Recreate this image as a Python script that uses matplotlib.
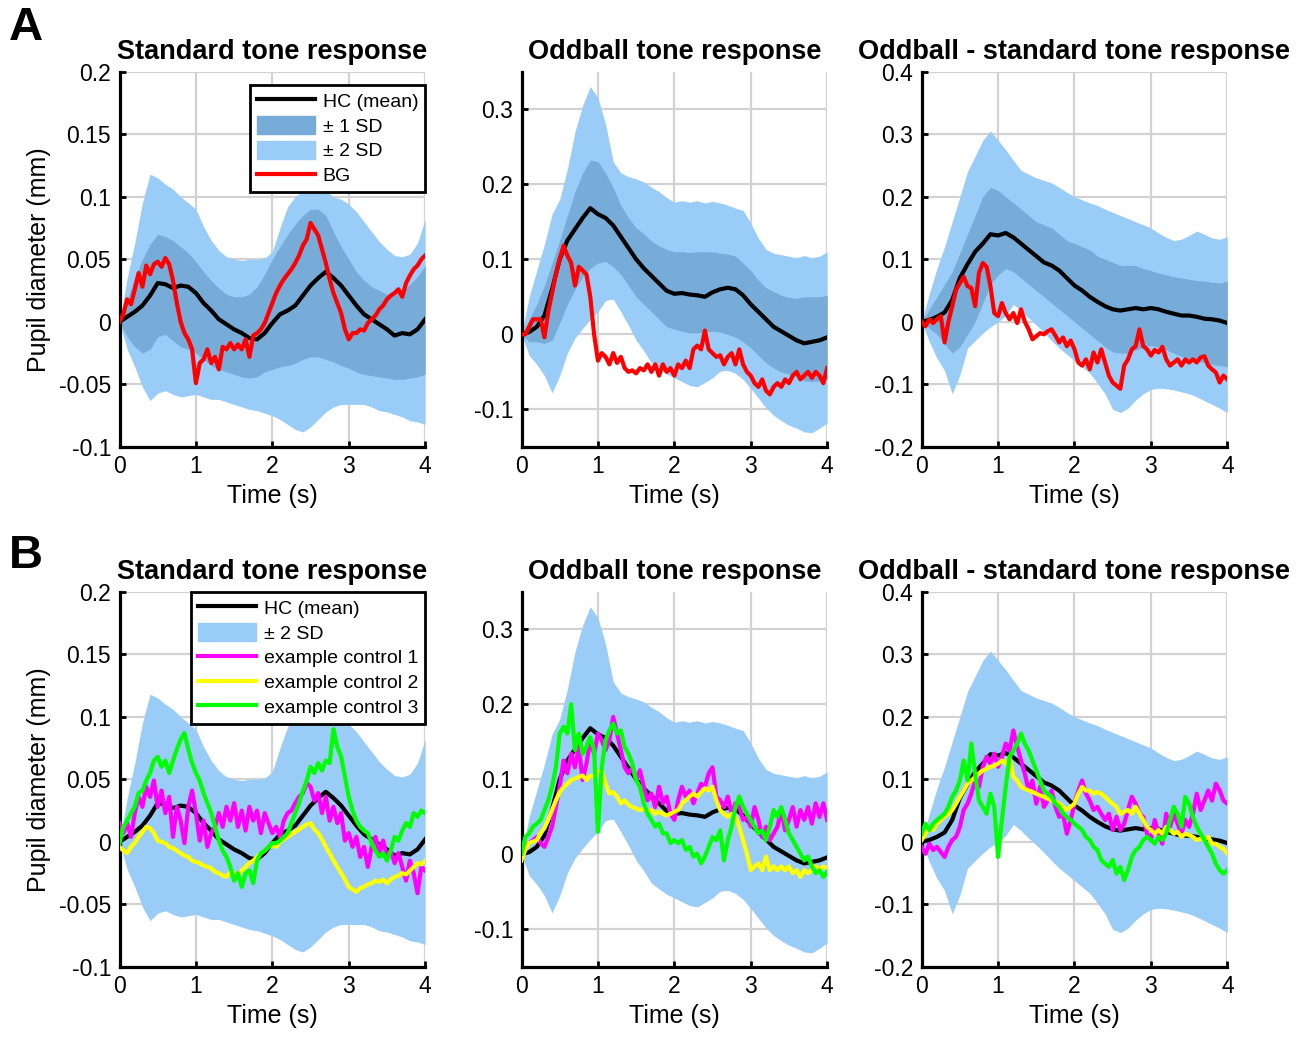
import numpy as np
import matplotlib
matplotlib.use('Agg')
import matplotlib.pyplot as plt
from matplotlib.lines import Line2D
from matplotlib.patches import Patch

plt.rcParams['font.family'] = ['Liberation Sans', 'DejaVu Sans']

# time axes (s): means / SD bands every 0.1 s, single traces every 0.05 s
t41 = np.linspace(0, 4, 41)
t81 = np.linspace(0, 4, 81)

# ---------------- standard tone ----------------
std_mean = [0.000, 0.004, 0.008, 0.013, 0.021, 0.031, 0.030, 0.027, 0.029, 0.028,
            0.023, 0.015, 0.009, 0.002, -0.002, -0.006, -0.009, -0.013, -0.014, -0.009,
            -0.001, 0.006, 0.009, 0.013, 0.021, 0.029, 0.035, 0.040, 0.035, 0.029,
            0.021, 0.013, 0.006, 0.002, -0.002, -0.006, -0.011, -0.009, -0.010, -0.006,
            0.002]
std_hi2 = [0.000, 0.035, 0.063, 0.095, 0.118, 0.115, 0.110, 0.106, 0.100, 0.095,
           0.090, 0.076, 0.065, 0.057, 0.052, 0.050, 0.049, 0.050, 0.050, 0.051,
           0.056, 0.075, 0.092, 0.100, 0.105, 0.110, 0.110, 0.105, 0.100, 0.098,
           0.094, 0.088, 0.080, 0.072, 0.064, 0.058, 0.053, 0.052, 0.054, 0.063,
           0.082]
std_lo2 = [0.000, -0.022, -0.036, -0.052, -0.063, -0.057, -0.055, -0.058, -0.060, -0.059,
           -0.058, -0.060, -0.062, -0.062, -0.064, -0.066, -0.068, -0.070, -0.071, -0.073,
           -0.075, -0.078, -0.082, -0.086, -0.088, -0.084, -0.078, -0.072, -0.068, -0.066,
           -0.066, -0.066, -0.066, -0.068, -0.071, -0.072, -0.074, -0.076, -0.079, -0.080,
           -0.082]
std_hi1 = [0.000, 0.018, 0.035, 0.050, 0.062, 0.070, 0.068, 0.065, 0.060, 0.055,
           0.048, 0.040, 0.033, 0.027, 0.022, 0.020, 0.020, 0.022, 0.028, 0.038,
           0.050, 0.060, 0.070, 0.078, 0.085, 0.090, 0.090, 0.085, 0.072, 0.060,
           0.050, 0.040, 0.033, 0.028, 0.025, 0.022, 0.022, 0.025, 0.030, 0.036,
           0.045]
std_lo1 = [0.000, -0.012, -0.020, -0.025, -0.022, -0.012, -0.010, -0.015, -0.020, -0.022,
           -0.025, -0.030, -0.035, -0.038, -0.040, -0.042, -0.044, -0.045, -0.044, -0.040,
           -0.038, -0.036, -0.035, -0.033, -0.030, -0.028, -0.028, -0.030, -0.032, -0.035,
           -0.037, -0.040, -0.042, -0.043, -0.044, -0.045, -0.046, -0.046, -0.045, -0.044,
           -0.042]
std_bg = [0.000, 0.006, 0.018, 0.014, 0.026, 0.039, 0.028, 0.045, 0.038, 0.046,
          0.048, 0.044, 0.051, 0.046, 0.033, 0.015, 0.000, -0.009, -0.014, -0.022,
          -0.049, -0.033, -0.030, -0.022, -0.033, -0.028, -0.038, -0.020, -0.022, -0.017,
          -0.022, -0.018, -0.022, -0.014, -0.028, -0.011, -0.009, -0.006, -0.001, 0.007,
          0.015, 0.023, 0.029, 0.034, 0.038, 0.042, 0.047, 0.053, 0.061, 0.066,
          0.079, 0.074, 0.069, 0.058, 0.047, 0.034, 0.023, 0.015, 0.007, -0.006,
          -0.014, -0.009, -0.009, -0.006, -0.007, -0.001, 0.002, 0.005, 0.010, 0.013,
          0.018, 0.021, 0.023, 0.026, 0.020, 0.031, 0.037, 0.042, 0.045, 0.050,
          0.053]
std_c1 = [0.015, 0.007, 0.015, 0.004, 0.023, 0.036, 0.028, 0.044, 0.036, 0.049,
          0.028, 0.041, 0.023, 0.036, 0.004, 0.028, 0.017, -0.001, 0.028, 0.041,
          0.023, 0.001, 0.017, -0.004, 0.007, 0.012, 0.023, 0.012, 0.028, 0.017,
          0.031, 0.012, 0.025, 0.009, 0.028, 0.017, 0.025, 0.007, 0.023, 0.015,
          0.007, 0.012, 0.004, 0.017, 0.023, 0.025, 0.031, 0.036, 0.039, 0.047,
          0.044, 0.033, 0.039, 0.023, 0.036, 0.017, 0.028, 0.015, 0.023, 0.001,
          0.007, -0.004, 0.004, -0.012, -0.004, -0.020, -0.004, 0.004, -0.009, 0.001,
          -0.012, -0.007, -0.017, -0.009, -0.020, -0.031, -0.015, -0.025, -0.041, -0.020,
          -0.023]
std_c2 = [-0.004, -0.007, -0.009, -0.004, -0.001, 0.004, 0.008, 0.012, 0.011, 0.007,
          0.001, 0.000, -0.001, -0.004, -0.005, -0.007, -0.009, -0.011, -0.012, -0.015,
          -0.016, -0.017, -0.019, -0.020, -0.021, -0.024, -0.025, -0.027, -0.028, -0.024,
          -0.025, -0.027, -0.023, -0.020, -0.017, -0.015, -0.012, -0.009, -0.007, -0.004,
          -0.003, -0.004, 0.000, 0.002, 0.004, 0.006, 0.008, 0.010, 0.012, 0.014,
          0.015, 0.010, 0.007, 0.002, -0.004, -0.009, -0.015, -0.020, -0.025, -0.030,
          -0.036, -0.038, -0.040, -0.037, -0.036, -0.034, -0.033, -0.031, -0.032, -0.030,
          -0.033, -0.030, -0.028, -0.027, -0.025, -0.026, -0.023, -0.020, -0.017, -0.018,
          -0.015]
std_c3 = [-0.001, 0.012, 0.017, 0.023, 0.028, 0.039, 0.041, 0.049, 0.055, 0.065,
          0.068, 0.060, 0.065, 0.055, 0.065, 0.074, 0.082, 0.087, 0.074, 0.063,
          0.055, 0.049, 0.039, 0.031, 0.023, 0.012, 0.001, -0.007, -0.012, -0.020,
          -0.031, -0.025, -0.036, -0.025, -0.023, -0.033, -0.015, -0.009, -0.007, -0.004,
          -0.001, -0.001, 0.001, 0.004, 0.007, 0.015, 0.023, 0.031, 0.041, 0.049,
          0.060, 0.055, 0.063, 0.057, 0.065, 0.063, 0.090, 0.076, 0.068, 0.052,
          0.036, 0.025, 0.017, 0.012, 0.009, 0.007, -0.001, -0.007, -0.012, -0.009,
          -0.015, -0.007, 0.004, 0.001, 0.009, 0.015, 0.012, 0.023, 0.020, 0.025,
          0.023]

# ---------------- oddball tone ----------------
odd_mean = [0.000, 0.003, 0.010, 0.025, 0.060, 0.100, 0.125, 0.140, 0.155, 0.168,
            0.160, 0.155, 0.145, 0.130, 0.115, 0.100, 0.088, 0.078, 0.068, 0.058,
            0.054, 0.055, 0.053, 0.052, 0.050, 0.056, 0.060, 0.062, 0.060, 0.052,
            0.040, 0.030, 0.020, 0.010, 0.004, -0.002, -0.008, -0.012, -0.010, -0.008,
            -0.004]
odd_hi2 = [0.000, 0.050, 0.085, 0.120, 0.160, 0.180, 0.220, 0.270, 0.305, 0.330,
           0.315, 0.280, 0.230, 0.215, 0.210, 0.207, 0.203, 0.196, 0.190, 0.182,
           0.176, 0.178, 0.176, 0.178, 0.175, 0.177, 0.175, 0.172, 0.168, 0.165,
           0.148, 0.128, 0.113, 0.108, 0.106, 0.104, 0.102, 0.105, 0.102, 0.104,
           0.110]
odd_lo2 = [0.000, -0.028, -0.040, -0.055, -0.078, -0.055, -0.025, -0.005, 0.008, 0.020,
           0.030, 0.045, 0.047, 0.030, 0.012, -0.008, -0.022, -0.038, -0.046, -0.053,
           -0.058, -0.063, -0.068, -0.070, -0.064, -0.058, -0.049, -0.048, -0.052, -0.060,
           -0.072, -0.085, -0.098, -0.108, -0.115, -0.121, -0.125, -0.130, -0.131, -0.125,
           -0.118]
odd_hi1 = [0.000, 0.020, 0.040, 0.065, 0.095, 0.125, 0.158, 0.190, 0.215, 0.232,
           0.230, 0.215, 0.195, 0.172, 0.155, 0.142, 0.134, 0.124, 0.118, 0.113,
           0.110, 0.110, 0.109, 0.110, 0.110, 0.110, 0.108, 0.107, 0.104, 0.095,
           0.085, 0.072, 0.062, 0.057, 0.052, 0.049, 0.048, 0.050, 0.050, 0.050,
           0.052]
odd_lo1 = [0.000, -0.010, -0.010, -0.012, -0.008, 0.015, 0.040, 0.060, 0.077, 0.088,
           0.095, 0.097, 0.090, 0.080, 0.065, 0.050, 0.040, 0.030, 0.020, 0.010,
           0.007, 0.004, 0.002, 0.002, 0.003, 0.004, 0.003, 0.000, -0.004, -0.010,
           -0.018, -0.028, -0.038, -0.045, -0.050, -0.053, -0.056, -0.062, -0.063, -0.062,
           -0.060]
odd_bg = [0.000, 0.000, 0.010, 0.020, 0.020, 0.020, -0.004, 0.030, 0.055, 0.080,
          0.100, 0.118, 0.105, 0.095, 0.065, 0.090, 0.085, 0.080, 0.050, 0.000,
          -0.035, -0.025, -0.030, -0.040, -0.025, -0.038, -0.030, -0.045, -0.050, -0.048,
          -0.052, -0.045, -0.048, -0.040, -0.050, -0.040, -0.055, -0.040, -0.050, -0.045,
          -0.055, -0.040, -0.045, -0.035, -0.045, -0.020, -0.015, -0.020, 0.005, -0.020,
          -0.025, -0.030, -0.028, -0.040, -0.030, -0.025, -0.040, -0.020, -0.040, -0.050,
          -0.055, -0.065, -0.070, -0.060, -0.075, -0.080, -0.070, -0.065, -0.070, -0.060,
          -0.065, -0.055, -0.050, -0.060, -0.055, -0.050, -0.058, -0.050, -0.055, -0.065,
          -0.045]
odd_c1 = [0.000, 0.010, 0.015, 0.019, 0.023, 0.015, 0.010, 0.023, 0.037, 0.063,
          0.090, 0.125, 0.108, 0.134, 0.116, 0.143, 0.099, 0.121, 0.152, 0.134,
          0.161, 0.152, 0.139, 0.152, 0.183, 0.161, 0.139, 0.116, 0.108, 0.116,
          0.099, 0.112, 0.090, 0.072, 0.081, 0.063, 0.090, 0.068, 0.077, 0.054,
          0.046, 0.072, 0.090, 0.077, 0.085, 0.068, 0.081, 0.094, 0.090, 0.108,
          0.116, 0.077, 0.072, 0.063, 0.077, 0.054, 0.068, 0.063, 0.046, 0.050,
          0.037, 0.063, 0.046, 0.023, 0.037, 0.019, 0.028, 0.037, 0.059, 0.032,
          0.046, 0.063, 0.037, 0.059, 0.046, 0.063, 0.041, 0.068, 0.050, 0.068,
          0.046]
odd_c2 = [-0.008, 0.006, 0.015, 0.017, 0.019, 0.028, 0.035, 0.046, 0.059, 0.072,
          0.083, 0.090, 0.094, 0.099, 0.101, 0.103, 0.105, 0.099, 0.105, 0.103,
          0.110, 0.112, 0.094, 0.081, 0.083, 0.077, 0.068, 0.072, 0.066, 0.063,
          0.061, 0.059, 0.061, 0.057, 0.059, 0.054, 0.057, 0.054, 0.052, 0.054,
          0.057, 0.059, 0.068, 0.072, 0.077, 0.081, 0.077, 0.083, 0.088, 0.085,
          0.090, 0.072, 0.059, 0.054, 0.050, 0.054, 0.050, 0.037, 0.019, 0.001,
          -0.021, -0.016, -0.012, -0.021, -0.003, -0.021, -0.016, -0.021, -0.016, -0.021,
          -0.016, -0.025, -0.021, -0.030, -0.021, -0.025, -0.021, -0.016, -0.021, -0.016,
          -0.019]
odd_c3 = [0.001, 0.023, 0.028, 0.037, 0.041, 0.046, 0.059, 0.072, 0.090, 0.116,
          0.161, 0.170, 0.161, 0.200, 0.139, 0.161, 0.134, 0.143, 0.156, 0.139,
          0.030, 0.116, 0.152, 0.165, 0.174, 0.161, 0.165, 0.143, 0.134, 0.121,
          0.099, 0.090, 0.068, 0.054, 0.046, 0.037, 0.041, 0.028, 0.028, 0.015,
          0.019, 0.015, 0.019, 0.006, 0.010, -0.003, 0.001, -0.012, -0.003, 0.010,
          0.023, 0.019, 0.032, -0.008, 0.019, 0.037, 0.063, 0.077, 0.063, 0.054,
          0.046, 0.037, 0.028, 0.032, 0.019, 0.037, 0.059, 0.050, 0.063, 0.046,
          0.028, 0.019, 0.010, 0.001, -0.008, -0.003, -0.016, -0.025, -0.021, -0.030,
          -0.023]

# ---------------- oddball - standard ----------------
dif_mean = [0.000, 0.003, 0.008, 0.015, 0.035, 0.070, 0.092, 0.112, 0.125, 0.140,
            0.138, 0.142, 0.135, 0.125, 0.115, 0.105, 0.095, 0.090, 0.082, 0.070,
            0.058, 0.050, 0.040, 0.032, 0.025, 0.020, 0.018, 0.020, 0.022, 0.020,
            0.022, 0.020, 0.016, 0.013, 0.010, 0.010, 0.008, 0.005, 0.004, 0.002,
            -0.002]
dif_hi2 = [0.000, 0.045, 0.085, 0.120, 0.160, 0.200, 0.240, 0.265, 0.290, 0.305,
           0.290, 0.275, 0.258, 0.242, 0.236, 0.230, 0.226, 0.222, 0.215, 0.207,
           0.200, 0.195, 0.190, 0.186, 0.180, 0.175, 0.170, 0.165, 0.160, 0.155,
           0.150, 0.142, 0.135, 0.130, 0.132, 0.138, 0.145, 0.140, 0.134, 0.132,
           0.136]
dif_lo2 = [0.000, -0.032, -0.058, -0.078, -0.115, -0.085, -0.042, -0.030, -0.018, -0.008,
           0.000, 0.010, 0.028, 0.018, 0.006, -0.005, -0.017, -0.030, -0.042, -0.052,
           -0.062, -0.072, -0.082, -0.098, -0.115, -0.140, -0.145, -0.138, -0.125, -0.115,
           -0.108, -0.106, -0.107, -0.109, -0.112, -0.115, -0.120, -0.126, -0.132, -0.138,
           -0.145]
dif_hi1 = [0.000, 0.020, 0.040, 0.060, 0.080, 0.110, 0.140, 0.170, 0.200, 0.215,
           0.210, 0.200, 0.190, 0.180, 0.170, 0.160, 0.155, 0.150, 0.140, 0.130,
           0.125, 0.120, 0.115, 0.105, 0.100, 0.095, 0.090, 0.090, 0.090, 0.085,
           0.082, 0.078, 0.075, 0.072, 0.070, 0.068, 0.066, 0.065, 0.063, 0.062,
           0.065]
dif_lo1 = [0.000, -0.010, -0.020, -0.035, -0.050, -0.040, -0.020, 0.000, 0.030, 0.060,
           0.075, 0.085, 0.080, 0.070, 0.060, 0.050, 0.040, 0.030, 0.020, 0.010,
           0.000, -0.010, -0.020, -0.030, -0.040, -0.048, -0.050, -0.050, -0.045, -0.040,
           -0.038, -0.040, -0.045, -0.050, -0.055, -0.060, -0.063, -0.065, -0.068, -0.070,
           -0.072]
dif_bg = [0.000, -0.007, 0.004, -0.002, 0.004, 0.009, -0.033, 0.000, 0.025, 0.051,
          0.062, 0.072, 0.057, 0.054, 0.025, 0.078, 0.094, 0.088, 0.057, 0.014,
          0.009, 0.030, 0.014, 0.004, 0.014, -0.002, 0.020, 0.000, -0.012, -0.028,
          -0.023, -0.018, -0.020, -0.015, -0.012, -0.022, -0.033, -0.025, -0.039, -0.030,
          -0.044, -0.065, -0.070, -0.060, -0.076, -0.049, -0.065, -0.044, -0.065, -0.086,
          -0.097, -0.102, -0.107, -0.070, -0.060, -0.044, -0.039, -0.012, -0.039, -0.044,
          -0.054, -0.045, -0.049, -0.040, -0.060, -0.070, -0.065, -0.060, -0.070, -0.060,
          -0.065, -0.060, -0.065, -0.057, -0.055, -0.070, -0.076, -0.081, -0.097, -0.086,
          -0.092]
dif_c1 = [-0.008, -0.019, -0.003, -0.013, -0.008, -0.016, -0.024, -0.008, 0.003, 0.008,
          0.024, 0.051, 0.061, 0.077, 0.098, 0.088, 0.120, 0.136, 0.125, 0.141,
          0.120, 0.136, 0.157, 0.146, 0.178, 0.152, 0.130, 0.109, 0.082, 0.098,
          0.061, 0.088, 0.056, 0.066, 0.082, 0.056, 0.040, 0.045, 0.013, 0.035,
          0.061, 0.082, 0.098, 0.077, 0.066, 0.051, 0.056, 0.045, 0.035, 0.045,
          0.019, 0.040, 0.019, 0.029, 0.051, 0.072, 0.061, 0.045, 0.040, 0.013,
          0.003, 0.035, 0.013, -0.003, 0.045, 0.024, 0.045, 0.029, 0.013, 0.035,
          0.024, 0.045, 0.077, 0.051, 0.066, 0.082, 0.066, 0.093, 0.082, 0.066,
          0.061]
dif_c2 = [0.003, 0.013, 0.024, 0.019, 0.029, 0.035, 0.040, 0.045, 0.051, 0.061,
          0.072, 0.082, 0.093, 0.098, 0.104, 0.109, 0.114, 0.117, 0.120, 0.122,
          0.125, 0.130, 0.125, 0.136, 0.104, 0.098, 0.088, 0.085, 0.082, 0.080,
          0.077, 0.074, 0.072, 0.069, 0.066, 0.064, 0.061, 0.056, 0.051, 0.056,
          0.061, 0.077, 0.088, 0.082, 0.082, 0.077, 0.080, 0.077, 0.072, 0.066,
          0.061, 0.056, 0.045, 0.048, 0.051, 0.045, 0.056, 0.045, 0.035, 0.024,
          0.019, 0.013, 0.019, 0.013, 0.024, 0.019, 0.013, 0.016, 0.008, 0.013,
          0.011, 0.008, 0.003, 0.005, 0.003, 0.008, -0.003, -0.003, -0.008, -0.011,
          -0.019]
dif_c3 = [0.013, 0.029, 0.019, 0.029, 0.035, 0.040, 0.045, 0.056, 0.072, 0.082,
          0.098, 0.130, 0.098, 0.157, 0.109, 0.066, 0.056, 0.045, 0.077, 0.056,
          -0.024, 0.035, 0.088, 0.136, 0.146, 0.157, 0.173, 0.157, 0.146, 0.130,
          0.114, 0.098, 0.082, 0.077, 0.072, 0.061, 0.056, 0.045, 0.040, 0.035,
          0.029, 0.024, 0.019, 0.008, 0.003, -0.008, -0.013, -0.029, -0.035, -0.040,
          -0.029, -0.051, -0.040, -0.061, -0.045, -0.024, -0.013, -0.008, 0.003, 0.008,
          0.003, -0.003, 0.008, 0.003, 0.013, 0.035, 0.056, 0.045, 0.024, 0.072,
          0.061, 0.040, 0.024, 0.013, 0.003, -0.008, -0.019, -0.035, -0.045, -0.051,
          -0.045]

titles = ['Standard tone response', 'Oddball tone response', 'Oddball - standard tone response']
ylims = [(-0.1, 0.2), (-0.15, 0.35), (-0.2, 0.4)]
yticks = [[-0.1, -0.05, 0, 0.05, 0.1, 0.15, 0.2],
          [-0.1, 0, 0.1, 0.2, 0.3],
          [-0.2, -0.1, 0, 0.1, 0.2, 0.3, 0.4]]

LIGHT = '#99CCF7'
DARK = '#77ABD8'
MAG, YEL, GRN = '#FF00FF', '#FFFF00', '#00FF00'
LW = 3.0

conds = [
    (std_mean, std_hi1, std_lo1, std_hi2, std_lo2, std_bg, [std_c1, std_c2, std_c3]),
    (odd_mean, odd_hi1, odd_lo1, odd_hi2, odd_lo2, odd_bg, [odd_c1, odd_c2, odd_c3]),
    (dif_mean, dif_hi1, dif_lo1, dif_hi2, dif_lo2, dif_bg, [dif_c1, dif_c2, dif_c3]),
]

fig = plt.figure(figsize=(13.09, 10.37), dpi=100)
lefts = [0.0913, 0.3984, 0.7041]
bottoms = [0.5690, 0.0675]
W, H = 0.2335, 0.3620


def style_axes(ax, i):
    ax.set_xlim(0, 4)
    ax.set_ylim(*ylims[i])
    ax.set_xticks([0, 1, 2, 3, 4])
    ax.set_xticklabels(['0', '1', '2', '3', '4'])
    ax.set_yticks(yticks[i])
    ax.set_yticklabels([f'{v:g}' for v in yticks[i]])
    ax.set_axisbelow(True)
    ax.grid(True, color='#d2d2d2', lw=1.6)
    for s in ['top', 'right']:
        ax.spines[s].set_visible(False)
    for s in ['left', 'bottom']:
        ax.spines[s].set_linewidth(2.3)
    ax.tick_params(direction='in', length=4, width=2.0, labelsize=16.5, pad=6)
    ax.set_title(titles[i], fontsize=19.5, fontweight='bold', pad=9)
    ax.set_xlabel('Time (s)', fontsize=18, labelpad=4)
    if i == 0:
        ax.set_ylabel('Pupil diameter (mm)', fontsize=18, labelpad=6)


def add_legend(ax, hnd, labels, top):
    leg = ax.legend(hnd, labels, loc='upper right', bbox_to_anchor=(1.0, top),
                    borderaxespad=0, fontsize=14, handlelength=3.0, handleheight=1.0,
                    handletextpad=0.4, labelspacing=0.28, borderpad=0.35,
                    fancybox=False, framealpha=1)
    leg.get_frame().set_edgecolor('k')
    leg.get_frame().set_linewidth(2.0)


# row A: HC mean with 1 and 2 SD bands, BG patient
for i, (m, h1, l1, h2, l2, bg, ctrls) in enumerate(conds):
    ax = fig.add_axes([lefts[i], bottoms[0], W, H])
    ax.fill_between(t41, l2, h2, color=LIGHT, lw=0, zorder=1)
    ax.fill_between(t41, l1, h1, color=DARK, lw=0, zorder=1.1)
    ax.plot(t41, m, color='k', lw=LW, zorder=2)
    ax.plot(t81, bg, color='r', lw=LW, zorder=3)
    style_axes(ax, i)
    if i == 0:
        hnd = [Line2D([], [], color='k', lw=LW), Patch(color=DARK), Patch(color=LIGHT),
               Line2D([], [], color='r', lw=LW)]
        add_legend(ax, hnd, ['HC (mean)', '± 1 SD', '± 2 SD', 'BG'], 0.965)

# row B: HC mean with 2 SD band and three example controls
for i, (m, h1, l1, h2, l2, bg, ctrls) in enumerate(conds):
    ax = fig.add_axes([lefts[i], bottoms[1], W, H])
    ax.fill_between(t41, l2, h2, color=LIGHT, lw=0, zorder=1)
    ax.plot(t41, m, color='k', lw=LW, zorder=2)
    for y, c in zip(ctrls, [MAG, YEL, GRN]):
        ax.plot(t81, y, color=c, lw=LW, zorder=3)
    style_axes(ax, i)
    if i == 0:
        hnd = [Line2D([], [], color='k', lw=LW), Patch(color=LIGHT),
               Line2D([], [], color=MAG, lw=LW), Line2D([], [], color=YEL, lw=LW),
               Line2D([], [], color=GRN, lw=LW)]
        add_legend(ax, hnd, ['HC (mean)', '± 2 SD', 'example control 1',
                             'example control 2', 'example control 3'], 1.0)

# panel letters
fig.text(0.007, 0.973, 'A', fontsize=34, fontweight='bold', va='center', ha='left')
fig.text(0.007, 0.464, 'B', fontsize=34, fontweight='bold', va='center', ha='left')

fig.savefig('out.png', dpi=100)
